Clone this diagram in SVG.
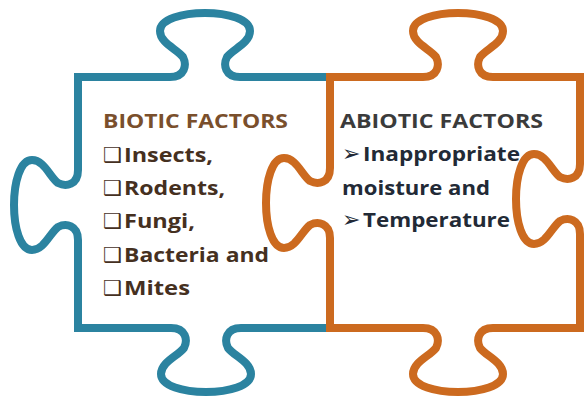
<svg xmlns="http://www.w3.org/2000/svg" width="588" height="400" viewBox="0 0 588 400">
<style>
.piece{fill:none;stroke-width:8;stroke-linejoin:miter}
.blue{stroke:#2B83A0}
.orange{stroke:#CC6A1F}
.t{font-family:"Open Sans","Liberation Sans",sans-serif;font-weight:bold;font-size:20px}
.box{font-family:"DejaVu Sans",sans-serif;font-size:21px}
.arr{font-family:"DejaVu Sans",sans-serif;font-size:22px}
.ltitle{fill:#7A4F2C}
.litem{fill:#45301F}
.rtitle{fill:#3B3B3B}
.ritem{fill:#222A36}
</style>
<rect width="588" height="400" fill="#FFFFFF"/>
<g id="connectors"></g>
<g id="biotic">
<path class="piece blue" d="M 330 328 L 241 328 C 226 328 224 340 228 348 C 234 356 251 362 251 374 C 251 398 161 398 161 374 C 161 362 178 356 184 348 C 188 340 186 328 171 328 L 78 328 L 78 240 C 78 225 66 223 58 227 C 50 233 44 250 32 250 C 8 250 8 160 32 160 C 44 160 50 177 58 183 C 66 187 78 185 78 170 L 78 77 L 170 77 C 185 77 187 65 183 57 C 177 49 160 43 160 31 C 160 7 250 7 250 31 C 250 43 233 49 227 57 C 223 65 225 77 240 77 L 330 77"/>
<text class="t ltitle" x="103" y="128" textLength="185" lengthAdjust="spacingAndGlyphs">BIOTIC FACTORS</text>
<text class="box litem" x="103" y="162">❑</text>
<text class="t litem" x="124" y="162" textLength="89" lengthAdjust="spacingAndGlyphs">Insects,</text>
<text class="box litem" x="103" y="195">❑</text>
<text class="t litem" x="124" y="195" textLength="101" lengthAdjust="spacingAndGlyphs">Rodents,</text>
<text class="box litem" x="103" y="228">❑</text>
<text class="t litem" x="124" y="228" textLength="71" lengthAdjust="spacingAndGlyphs">Fungi,</text>
<text class="box litem" x="103" y="262">❑</text>
<text class="t litem" x="124" y="262" textLength="145" lengthAdjust="spacingAndGlyphs">Bacteria and</text>
<text class="box litem" x="103" y="295">❑</text>
<text class="t litem" x="124" y="295" textLength="66" lengthAdjust="spacingAndGlyphs">Mites</text>
</g>
<g id="abiotic">
<path class="piece orange" d="M 330 77 L 423 77 C 438 77 440 65 436 57 C 430 49 413 43 413 31 C 413 7 503 7 503 31 C 503 43 486 49 480 57 C 476 65 478 77 493 77 L 580 77 L 580 164 C 580 179 568 181 560 177 C 552 171 546 154 534 154 C 510 154 510 244 534 244 C 546 244 552 227 560 221 C 568 217 580 219 580 234 L 580 328 L 493 328 C 478 328 476 340 480 348 C 486 356 503 362 503 374 C 503 398 413 398 413 374 C 413 362 430 356 436 348 C 440 340 438 328 423 328 L 330 328 L 330 238 C 330 223 318 221 310 225 C 302 231 296 248 284 248 C 260 248 260 158 284 158 C 296 158 302 175 310 181 C 318 185 330 183 330 168 Z"/>
<text class="t rtitle" x="340" y="128" textLength="203" lengthAdjust="spacingAndGlyphs">ABIOTIC FACTORS</text>
<text class="arr ritem" x="342" y="161">➢</text>
<text class="t ritem" x="363" y="161" textLength="157" lengthAdjust="spacingAndGlyphs">Inappropriate</text>
<text class="t ritem" x="342" y="195" textLength="148" lengthAdjust="spacingAndGlyphs">moisture and</text>
<text class="arr ritem" x="342" y="227">➢</text>
<text class="t ritem" x="363" y="227" textLength="147" lengthAdjust="spacingAndGlyphs">Temperature</text>
</g>
</svg>
